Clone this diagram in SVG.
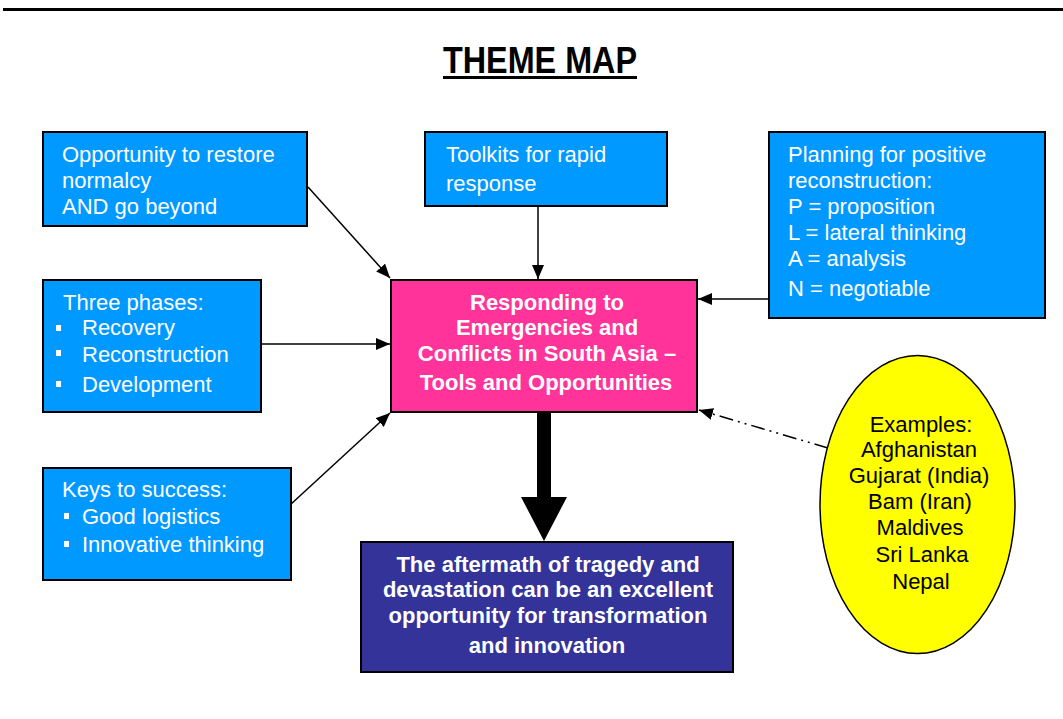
<svg xmlns="http://www.w3.org/2000/svg" width="1063" height="719" viewBox="0 0 1063 719">
<defs>
<marker id="ah" viewBox="0 0 14 12" refX="14" refY="6" markerWidth="14" markerHeight="12" markerUnits="userSpaceOnUse" orient="auto">
<path d="M0,0 L14,6 L0,12 Z" fill="#000"/>
</marker>
<style>
.box{stroke:#000;stroke-width:2}
.blue{fill:#0099FF}
.t{font-family:"Liberation Sans",Arial,sans-serif;font-size:22px;fill:#fff}
.b{font-weight:bold}
.c{text-anchor:middle}
.k{fill:#000}
.ln{stroke:#000;stroke-width:1.5;fill:none;marker-end:url(#ah)}
.bul{fill:#fff}
</style>
</defs>
<rect width="1063" height="719" fill="#fff"/>
<rect x="3" y="8" width="1060" height="3" fill="#000"/>
<g id="title">
<text x="443" y="73" font-family="Liberation Sans, Arial, sans-serif" font-size="36" font-weight="bold" textLength="194" lengthAdjust="spacingAndGlyphs" fill="#000">THEME MAP</text>
<rect x="443" y="76" width="194" height="3" fill="#000"/>
</g>
<g id="connectors">
<line class="ln" x1="308" y1="187" x2="390" y2="278"/>
<line class="ln" x1="538" y1="206" x2="538" y2="279"/>
<line class="ln" x1="769" y1="299" x2="698" y2="299"/>
<line class="ln" x1="261" y1="344" x2="390" y2="344"/>
<line class="ln" x1="290" y1="505" x2="390" y2="413"/>
<line class="ln" x1="828" y1="448" x2="699" y2="410" stroke-dasharray="14 5 2 5 2 5"/>
<path d="M537,412 L551,412 L551,497 L567,497 L544,541 L521,497 L537,497 Z" fill="#000"/>
</g>
<g id="n-opportunity">
<rect class="box blue" x="43" y="132" width="264" height="94"/>
<text class="t" x="62" y="162">Opportunity to restore</text>
<text class="t" x="62" y="188">normalcy</text>
<text class="t" x="62" y="214">AND go beyond</text>
</g>
<g id="n-toolkits">
<rect class="box blue" x="425" y="132" width="242" height="74"/>
<text class="t" x="446" y="162">Toolkits for rapid</text>
<text class="t" x="446" y="191">response</text>
</g>
<g id="n-planning">
<rect class="box blue" x="769" y="132" width="276" height="186"/>
<text class="t" x="788" y="162">Planning for positive</text>
<text class="t" x="788" y="188">reconstruction:</text>
<text class="t" x="788" y="214">P = proposition</text>
<text class="t" x="788" y="240">L = lateral thinking</text>
<text class="t" x="788" y="266">A = analysis</text>
<text class="t" x="788" y="296">N = negotiable</text>
</g>
<g id="n-phases">
<rect class="box blue" x="43" y="280" width="218" height="132"/>
<text class="t" x="63" y="310">Three phases:</text>
<rect class="bul" x="56" y="325" width="5" height="6"/>
<text class="t" x="82" y="335">Recovery</text>
<rect class="bul" x="56" y="350" width="5" height="6"/>
<text class="t" x="82" y="362">Reconstruction</text>
<rect class="bul" x="56" y="381" width="5" height="6"/>
<text class="t" x="82" y="392">Development</text>
</g>
<g id="n-keys">
<rect class="box blue" x="43" y="468" width="248" height="112"/>
<text class="t" x="62" y="497">Keys to success:</text>
<rect class="bul" x="64" y="513" width="5" height="6"/>
<text class="t" x="82" y="524">Good logistics</text>
<rect class="bul" x="64" y="541" width="5" height="6"/>
<text class="t" x="82" y="552">Innovative thinking</text>
</g>
<g id="n-center">
<rect class="box" x="391" y="280" width="306" height="132" fill="#FF3399"/>
<text class="t b c" x="547" y="310">Responding to</text>
<text class="t b c" x="547" y="335">Emergencies and</text>
<text class="t b c" x="547" y="361">Conflicts in South Asia –</text>
<text class="t b c" x="546" y="390">Tools and Opportunities</text>
</g>
<g id="n-aftermath">
<rect class="box" x="361" y="542" width="372" height="130" fill="#333399"/>
<text class="t b c" x="548" y="572">The aftermath of tragedy and</text>
<text class="t b c" x="548" y="597">devastation can be an excellent</text>
<text class="t b c" x="548" y="623">opportunity for transformation</text>
<text class="t b c" x="547" y="653">and innovation</text>
</g>
<g id="n-examples">
<ellipse cx="917.5" cy="504.5" rx="97.5" ry="149" fill="#FFFF00" stroke="#000" stroke-width="1.5"/>
<text class="t k c" x="921" y="432" font-size="21">Examples:</text>
<text class="t k c" x="919" y="457" font-size="21">Afghanistan</text>
<text class="t k c" x="919" y="483" font-size="21">Gujarat (India)</text>
<text class="t k c" x="920" y="509" font-size="21">Bam (Iran)</text>
<text class="t k c" x="920" y="535" font-size="21">Maldives</text>
<text class="t k c" x="922" y="562" font-size="21">Sri Lanka</text>
<text class="t k c" x="921" y="589" font-size="21">Nepal</text>
</g>
</svg>
